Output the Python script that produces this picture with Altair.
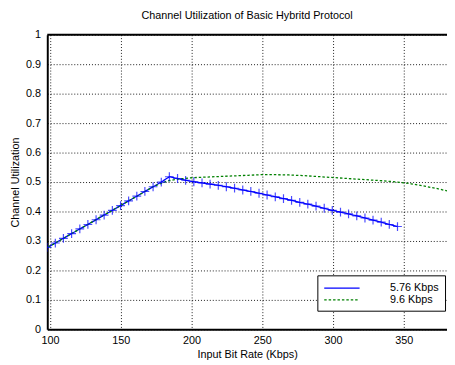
import altair as alt
import pandas as pd

title = "Channel Utilization of Basic Hybritd Protocol"
series_names = ["5.76 Kbps", "9.6 Kbps"]

blue_x = [97.9, 103.7, 109.4, 115.2, 121.0, 126.7, 132.5, 138.2, 144.0, 149.8, 155.5,
          161.3, 167.0, 172.8, 178.6, 184.3, 190.1, 195.8, 201.6, 207.4, 213.1, 218.9,
          224.6, 230.4, 236.2, 241.9, 247.7, 253.4, 259.2, 265.0, 270.7, 276.5, 282.2,
          288.0, 293.8, 299.5, 305.3, 311.0, 316.8, 322.6, 328.3, 334.1, 339.8, 345.6]
blue_y = [0.278, 0.293, 0.309, 0.325, 0.341, 0.356, 0.372, 0.388, 0.404, 0.420, 0.436,
          0.452, 0.468, 0.484, 0.500, 0.518, 0.512, 0.506, 0.501, 0.497, 0.493, 0.489,
          0.484, 0.479, 0.473, 0.468, 0.462, 0.456, 0.450, 0.444, 0.438, 0.431, 0.425,
          0.418, 0.411, 0.404, 0.398, 0.392, 0.385, 0.378, 0.371, 0.364, 0.356, 0.349]

green_x = [96.0, 105.6, 115.2, 124.8, 134.4, 144.0, 153.6, 163.2, 172.8, 182.4, 192.0,
           201.6, 211.2, 220.8, 230.4, 240.0, 249.6, 259.2, 268.8, 278.4, 288.0, 297.6,
           307.2, 316.8, 326.4, 336.0, 345.6, 355.2, 364.8, 374.4, 384.0]
green_y = [0.272, 0.298, 0.325, 0.351, 0.378, 0.404, 0.431, 0.457, 0.484, 0.503, 0.511,
           0.515, 0.517, 0.519, 0.521, 0.523, 0.525, 0.525, 0.524, 0.522, 0.519, 0.516,
           0.513, 0.510, 0.507, 0.504, 0.500, 0.494, 0.486, 0.477, 0.466]

x_ticks = [100, 150, 200, 250, 300, 350]
y_ticks = [0, 0.1, 0.2, 0.3, 0.4, 0.5, 0.6, 0.7, 0.8, 0.9, 1]

df = pd.concat([
    pd.DataFrame({"x": blue_x, "y": blue_y, "series": series_names[0]}),
    pd.DataFrame({"x": green_x, "y": green_y, "series": series_names[1]}),
])

FONT = "Liberation Sans"

xs = alt.Scale(domain=[98, 380.6], nice=False, zero=False)
ys = alt.Scale(domain=[0, 1], nice=False)

x_axis = alt.Axis(values=x_ticks, format="d", grid=True, gridColor="black",
                  gridDash=[1, 2], gridOpacity=0.9, tickSize=0, labelPadding=5,
                  domainColor="black", domainWidth=2, titlePadding=4, labelOverlap=False)
y_axis = alt.Axis(values=y_ticks, format="~g", grid=True, gridColor="black",
                  gridDash=[1, 2], gridOpacity=0.9, tickSize=0, labelPadding=7,
                  domainColor="black", domainWidth=2, titlePadding=5, labelOverlap=False)

x_enc = alt.X("x:Q", scale=xs, title="Input Bit Rate (Kbps)", axis=x_axis)
y_enc = alt.Y("y:Q", scale=ys, title="Channel Utilization", axis=y_axis)

legend = alt.Legend(title=None, labelAlign="left")

lines = alt.Chart(df).mark_line(clip=True, strokeWidth=1.3).encode(
    x=x_enc, y=y_enc,
    color=alt.Color("series:N", scale=alt.Scale(domain=series_names, range=["#0000ff", "#008000"]),
                    legend=legend),
    strokeDash=alt.StrokeDash("series:N", scale=alt.Scale(domain=series_names, range=[[1, 0], [2.5, 2]]),
                              legend=legend),
)

pts = alt.Chart(df).transform_filter(alt.datum.series == series_names[0]).mark_point(
    shape="M-1,0L1,0M0,-1L0,1", size=80, color="#0000ff", strokeWidth=1.2, clip=True
).encode(x=x_enc, y=y_enc)

top = alt.Chart(pd.DataFrame({"y": [1]})).mark_rule(color="black", strokeWidth=2).encode(
    y=y_enc)

chart = alt.layer(lines, pts, top).properties(
    width=407, height=300,
    title=alt.TitleParams(title, fontSize=11, font=FONT, fontWeight="normal", offset=8),
    autosize=alt.AutoSizeParams(type="none"),
    padding={"left": 40, "top": 24, "right": 0, "bottom": 29},
).configure_view(stroke=None).configure_axis(
    labelFont=FONT, titleFont=FONT, labelFontSize=11, titleFontSize=11,
    titleFontWeight="normal", labelColor="black", titleColor="black",
).configure_legend(
    orient="none", legendX=275, legendY=245, fillColor="white", strokeColor="black",
    padding=6, symbolType="M-3,0L3,0", symbolSize=144, symbolStrokeWidth=1.2,
    symbolOffset=12,
    labelFont=FONT, labelFontSize=11, labelColor="black", rowPadding=0,
    labelOffset=42, cornerRadius=0, labelLimit=200,
)

chart.save("out.html", embed_options={"renderer": "svg", "actions": False})
